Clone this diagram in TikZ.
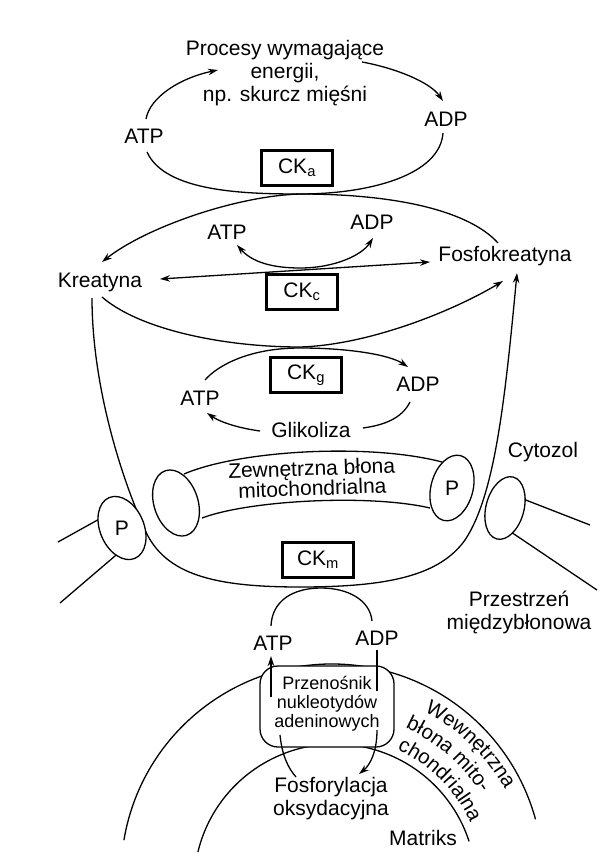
\documentclass[tikz,border=0pt]{standalone}
\usepackage{fontspec}
\setmainfont{Liberation Sans}
\usetikzlibrary{arrows.meta,shapes.geometric,decorations.text}
\begin{document}
\begin{tikzpicture}[x=1pt,y=-1pt,
  lbl/.style={font=\fontsize{21}{23}\selectfont, inner sep=0pt, align=center},
  smalltxt/.style={font=\fontsize{18}{19}\selectfont, inner sep=0pt, align=center},
  ckbox/.style={draw, line width=2.2pt, fill=white, minimum width=71pt, minimum height=35pt, inner sep=0pt, font=\fontsize{21}{23}\selectfont},
  ln/.style={line width=1.3pt},
  arr/.style={ln, -{Stealth[length=10pt,width=6.5pt]}},
  darr/.style={ln, {Stealth[length=10pt,width=6.5pt]}-{Stealth[length=10pt,width=6.5pt]}},
  porin/.style={draw, ellipse, line width=1.3pt, fill=white, inner sep=0pt},
  carrier/.style={draw, line width=1.3pt, fill=white, rounded corners=18pt, minimum width=134pt, minimum height=81pt, inner sep=0pt},
  curvetext/.style={decorate, decoration={text along path, text align=center, text={|\fontsize{20.5}{23}\selectfont|#1}}}
]
\useasboundingbox (0,0) rectangle (602,866);
\fill[white] (0,0) rectangle (602,866);

% ---------- coordinates
\coordinate (a1s) at (146,119);  \coordinate (a1e) at (218,70);
\coordinate (a2s) at (362,62);   \coordinate (a2e) at (443,101);
\coordinate (e1l) at (147,152);  \coordinate (e1b) at (300,194);  \coordinate (e1r) at (443,133);
\coordinate (hr) at (498,243);   \coordinate (hl) at (102,262);
\coordinate (s1l) at (237,245);  \coordinate (s1b) at (300,268);  \coordinate (s1r) at (373,238);
\coordinate (dl) at (160,279);   \coordinate (dr) at (430,262);
\coordinate (k2s) at (102,297);  \coordinate (k2b) at (300,347);  \coordinate (k2e) at (503,281);
\coordinate (ul) at (92,298);    \coordinate (u1) at (145,530);   \coordinate (ub) at (300,587);
\coordinate (u2) at (465,540);   \coordinate (ue) at (517,273);
\coordinate (gl) at (205,380);   \coordinate (gt) at (300,348);   \coordinate (gr) at (408,367);
\coordinate (g2s) at (410,402);  \coordinate (g2e) at (363,428);
\coordinate (g3s) at (260,431);  \coordinate (g3e) at (207,413);
\coordinate (bt1) at (184,474);  \coordinate (bt2) at (442,462);
\coordinate (bb1) at (202,518);  \coordinate (bb2) at (430,508);
\coordinate (lm1a) at (58,542);  \coordinate (lm1b) at (112,512);
\coordinate (lm2a) at (60,603);  \coordinate (lm2b) at (122,550);
\coordinate (rm1a) at (500,490); \coordinate (rm1b) at (590,525);
\coordinate (rm2a) at (508,530); \coordinate (rm2b) at (597,590);
\coordinate (cml) at (271,626);  \coordinate (cmt) at (321,588);  \coordinate (cmr) at (372,621);
\coordinate (upl1) at (271,697); \coordinate (upl2) at (271,656);
\coordinate (dnr1) at (377,650); \coordinate (dnr2) at (377,691);
\coordinate (bl1) at (296,777);  \coordinate (bl2) at (280,735);
\coordinate (br1) at (377,730);  \coordinate (br2) at (359,774);
\coordinate (imo) at (332,875);  \coordinate (imi) at (335,885);

% ---------- top cycle
\draw[arr] (a1s) .. controls (150,97) and (180,78) .. (a1e);
\draw[arr] (a2s) .. controls (395,68) and (430,82) .. (a2e);
\draw[ln] (e1l) .. controls (165,192) and (245,194) .. (e1b) .. controls (370,194) and (440,175) .. (e1r);

% ---------- CKa / CKc
\draw[arr] (hr) .. controls (470,212) and (400,194) .. (e1b) .. controls (235,196) and (145,228) .. (hl);
\draw[darr] (s1l) .. controls (252,262) and (272,268) .. (s1b) .. controls (335,268) and (362,255) .. (s1r);
\draw[darr] (dl) -- (dr);
\draw[arr] (k2s) .. controls (140,330) and (225,347) .. (k2b) .. controls (370,345) and (455,310) .. (k2e);

% ---------- big U
\draw[arr] (ul) .. controls (92,380) and (118,470) .. (u1) .. controls (165,575) and (215,587) .. (ub)
  .. controls (390,587) and (440,575) .. (u2) .. controls (495,495) and (505,400) .. (ue);

% ---------- glycolysis cycle
\draw[arr] (gl) .. controls (218,365) and (250,348) .. (gt) .. controls (350,348) and (390,355) .. (gr);
\draw[ln] (g2s) .. controls (402,418) and (385,425) .. (g2e);
\draw[arr] (g3s) .. controls (238,428) and (220,422) .. (g3e);

% ---------- outer mitochondrial membrane
\draw[ln] (bt1) .. controls (240,450) and (370,443) .. (bt2);
\draw[ln] (bb1) .. controls (250,500) and (370,494) .. (bb2);
\draw[ln] (lm1a) -- (lm1b);
\draw[ln] (lm2a) -- (lm2b);
\draw[ln] (rm1a) -- (rm1b);
\draw[ln] (rm2a) -- (rm2b);
\node[porin, minimum width=44pt, minimum height=68pt, rotate=18] (por1) at (176,503) {};
\node[porin, minimum width=44pt, minimum height=66pt, rotate=23] (por2) at (122,528) {};
\node[porin, minimum width=42pt, minimum height=67pt, rotate=-15] (por3) at (452,488) {};
\node[porin, minimum width=38pt, minimum height=64pt, rotate=-15] (por4) at (505,508) {};
\node[lbl] (p2) at (por2.center) {P};
\node[lbl] (p3) at (por3.center) {P};

% ---------- inner mitochondrial membrane
\draw[ln] ([shift={(189.5:211)}]imo) arc[start angle=189.5, end angle=344.7, radius=211];
\draw[ln] ([shift={(193.5:141)}]imi) arc[start angle=193.5, end angle=342, radius=141];
\path[curvetext={Wewnętrzna}] ([shift={(-80:195)}]imi) arc[start angle=-80, end angle=-12, radius=195];
\path[curvetext={błona mito-}] ([shift={(-82:172)}]imi) arc[start angle=-82, end angle=-16, radius=172];
\path[curvetext={chondrialna}] ([shift={(-80:149)}]imi) arc[start angle=-80, end angle=-10, radius=149];

% ---------- CKm / carrier
\draw[ln] (cml) .. controls (272,600) and (294,588) .. (cmt) .. controls (348,588) and (370,600) .. (cmr);
\node[carrier] (car) at (327,706.5) {};
\node[smalltxt] (cart) at (327,704) {Przenośnik\\nukleotydów\\adeninowych};
\draw[arr] (upl1) -- (upl2);
\draw[ln] (dnr1) -- (dnr2);
\draw[ln] (bl1) .. controls (288,768) and (282,755) .. (bl2);
\draw[arr] (br1) .. controls (377,752) and (370,765) .. (br2);

% ---------- boxes
\node[ckbox] (cka) at (297,168) {CK\textsubscript{a}};
\node[ckbox] (ckc) at (302,292) {CK\textsubscript{c}};
\node[ckbox] (ckg) at (306,375) {CK\textsubscript{g}};
\node[ckbox] (ckm) at (318,560) {CK\textsubscript{m}};

% ---------- labels
\node[lbl] (proc) at (285,73) {Procesy wymagające\\energii,\\np. skurcz mięśni};
\node[lbl] (atp1) at (144,136) {ATP};
\node[lbl] (adp1) at (446,119) {ADP};
\node[lbl] (atp2) at (227,232) {ATP};
\node[lbl] (adp2) at (372,222) {ADP};
\node[lbl] (kre) at (100,282) {Kreatyna};
\node[lbl] (fos) at (505,256) {Fosfokreatyna};
\node[lbl] (atp3) at (200,398) {ATP};
\node[lbl] (adp3) at (418,384) {ADP};
\node[lbl] (gli) at (311,430) {Glikoliza};
\node[lbl, font=\fontsize{21}{20}\selectfont, rotate=2] (zew) at (312,478) {Zewnętrzna błona\\mitochondrialna};
\node[lbl] (cyt) at (543,452) {Cytozol};
\node[lbl] (prz) at (519,612) {Przestrzeń\\międzybłonowa};
\node[lbl] (atp4) at (273,643) {ATP};
\node[lbl] (adp4) at (377,638) {ADP};
\node[lbl] (fosf) at (331,799) {Fosforylacja\\oksydacyjna};
\node[lbl] (mat) at (423,838) {Matriks};
\end{tikzpicture}
\end{document}
